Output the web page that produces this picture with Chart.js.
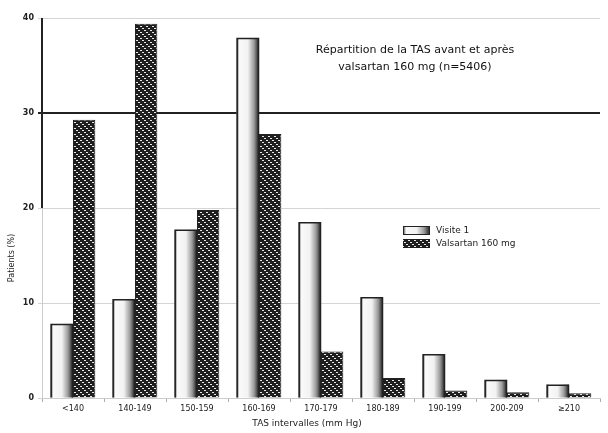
<!DOCTYPE html>
<html>
<head>
<meta charset="utf-8">
<script src="https://cdn.jsdelivr.net/npm/chart.js@4/dist/chart.umd.min.js"></script>
<style>
  html, body { margin: 0; padding: 0; background: #fff; }
  #wrap { width: 608px; height: 433px; }
</style>
</head>
<body>
<div id="wrap"><canvas id="myChart" width="608" height="433"></canvas></div>
<script>
// categories (TAS ranges) and series values, in %
const categories = ['<140', '140-149', '150-159', '160-169', '170-179', '180-189', '190-199', '200-209', '\u2265210'];
const visite1 = [7.8, 10.4, 17.7, 37.9, 18.5, 10.6, 4.6, 1.9, 1.4];
const valsartan = [29.3, 39.4, 19.8, 27.8, 4.9, 2.1, 0.8, 0.6, 0.5];
const yTicks = [0, 10, 20, 30, 40];

const seriesNames = ['Visite 1', 'Valsartan 160 mg'];
const titleLines = ['Répartition de la TAS avant et après', 'valsartan 160 mg (n=5406)'];
const xTitle = 'TAS intervalles (mm Hg)';
const yTitle = 'Patients (%)';

const FONT = 'DejaVu Sans';

// dotted diagonal hatch for the valsartan bars
const makeHatch = () => {
  const c = document.createElement('canvas');
  c.width = 6;
  c.height = 6;
  const g = c.getContext('2d');
  g.fillStyle = '#1e1e1e';
  g.fillRect(0, 0, 6, 6);
  g.fillStyle = '#e8e8e8';
  g.fillRect(0, 0, 2, 1);
  g.fillRect(2, 2, 2, 1);
  g.fillRect(4, 4, 2, 1);
  return g.createPattern(c, 'repeat');
};
const hatch = makeHatch();

// white/grey cylinder look for Visite 1
const cylinderFill = (ctx, x0, w) => {
  const gr = ctx.createLinearGradient(x0, 0, x0 + w, 0);
  gr.addColorStop(0, '#444');
  gr.addColorStop(0.12, '#fafafa');
  gr.addColorStop(0.5, '#f2f2f2');
  gr.addColorStop(0.78, '#9a9a9a');
  gr.addColorStop(0.9, '#555');
  gr.addColorStop(1, '#222');
  return gr;
};

const decorPlugin = {
  id: 'decor',
  afterDatasetsDraw: (chart) => {
    const ctx = chart.ctx;
    const meta = chart.getDatasetMeta(0);
    ctx.save();
    meta.data.forEach((el) => {
      const p = el.getProps(['x', 'y', 'base', 'width'], true);
      const x0 = p.x - p.width / 2;
      ctx.fillStyle = cylinderFill(ctx, x0, p.width);
      ctx.fillRect(x0, p.y, p.width, p.base - p.y);
      ctx.strokeStyle = '#222';
      ctx.lineWidth = 1.5;
      ctx.beginPath();
      ctx.moveTo(x0 + 0.5, p.base);
      ctx.lineTo(x0 + 0.5, p.y + 0.5);
      ctx.lineTo(x0 + p.width - 0.5, p.y + 0.5);
      ctx.lineTo(x0 + p.width - 0.5, p.base);
      ctx.stroke();
    });
    ctx.restore();
  },
  afterDraw: (chart) => {
    const ctx = chart.ctx;
    const y = chart.scales.y;
    const area = chart.chartArea;
    ctx.save();
    // dark upper part of the vertical axis
    ctx.strokeStyle = '#222';
    ctx.lineWidth = 2;
    ctx.beginPath();
    ctx.moveTo(area.left, y.getPixelForValue(40));
    ctx.lineTo(area.left, y.getPixelForValue(20));
    ctx.stroke();

    // title inside the plot
    ctx.fillStyle = '#111';
    ctx.font = '11px ' + FONT;
    ctx.textAlign = 'center';
    ctx.textBaseline = 'middle';
    ctx.fillText(titleLines[0], 415, 50);
    ctx.fillText(titleLines[1], 415, 67);

    // axis titles
    ctx.font = '9px ' + FONT;
    ctx.fillStyle = '#222';
    ctx.fillText(xTitle, 307, 424);
    ctx.save();
    ctx.translate(12, 258);
    ctx.rotate(-Math.PI / 2);
    ctx.font = '8px ' + FONT;
    ctx.fillText(yTitle, 0, 0);
    ctx.restore();

    // legend
    ctx.textAlign = 'left';
    ctx.font = '9px ' + FONT;
    ctx.fillStyle = cylinderFill(ctx, 403, 27);
    ctx.fillRect(403, 226, 27, 9);
    ctx.strokeStyle = '#222';
    ctx.lineWidth = 1;
    ctx.strokeRect(403.5, 226.5, 26, 8);
    ctx.fillStyle = hatch;
    ctx.fillRect(403, 239, 27, 9);
    ctx.fillStyle = '#222';
    ctx.fillText(seriesNames[0], 436, 231);
    ctx.fillText(seriesNames[1], 436, 244);
    ctx.restore();
  },
};

const data = {
  labels: categories,
  datasets: [
    {
      label: seriesNames[0],
      data: visite1,
      backgroundColor: '#fff',
      borderWidth: 0,
      barPercentage: 1.0,
      categoryPercentage: 0.72,
    },
    {
      label: seriesNames[1],
      data: valsartan,
      backgroundColor: hatch,
      borderColor: '#222',
      borderWidth: 1,
      barPercentage: 1.0,
      categoryPercentage: 0.72,
    },
  ],
};

const config = {
  type: 'bar',
  data: data,
  plugins: [decorPlugin],
  options: {
    responsive: false,
    animation: false,
    layout: { padding: { top: 18, right: 8, left: 0, bottom: 0 } },
    plugins: {
      legend: { display: false },
      tooltip: { enabled: false },
      title: { display: false },
    },
    scales: {
      x: {
        afterFit: (scale) => { scale.height = 35; },
        grid: {
          offset: true,
          drawOnChartArea: false,
          tickLength: 4,
          color: '#aaa',
        },
        border: { color: '#ccc', width: 1 },
        ticks: { color: '#222', font: { family: FONT, size: 8 }, padding: 2, maxRotation: 0 },
      },
      y: {
        min: 0,
        max: 40,
        afterFit: (scale) => { scale.width = 42; },
        afterBuildTicks: (scale) => { scale.ticks = yTicks.map((v) => ({ value: v })); },
        grid: {
          color: (c) => (c.tick && c.tick.value === 30 ? '#222' : '#d4d4d4'),
          lineWidth: (c) => (c.tick && c.tick.value === 30 ? 2 : 1),
          tickLength: 4,
        },
        border: { color: '#ccc', width: 1 },
        ticks: { color: '#222', font: { family: FONT, size: 8, weight: 'bold' }, padding: 4 },
      },
    },
  },
};

const myChart = new Chart(document.getElementById('myChart'), config);
</script>
</body>
</html>
